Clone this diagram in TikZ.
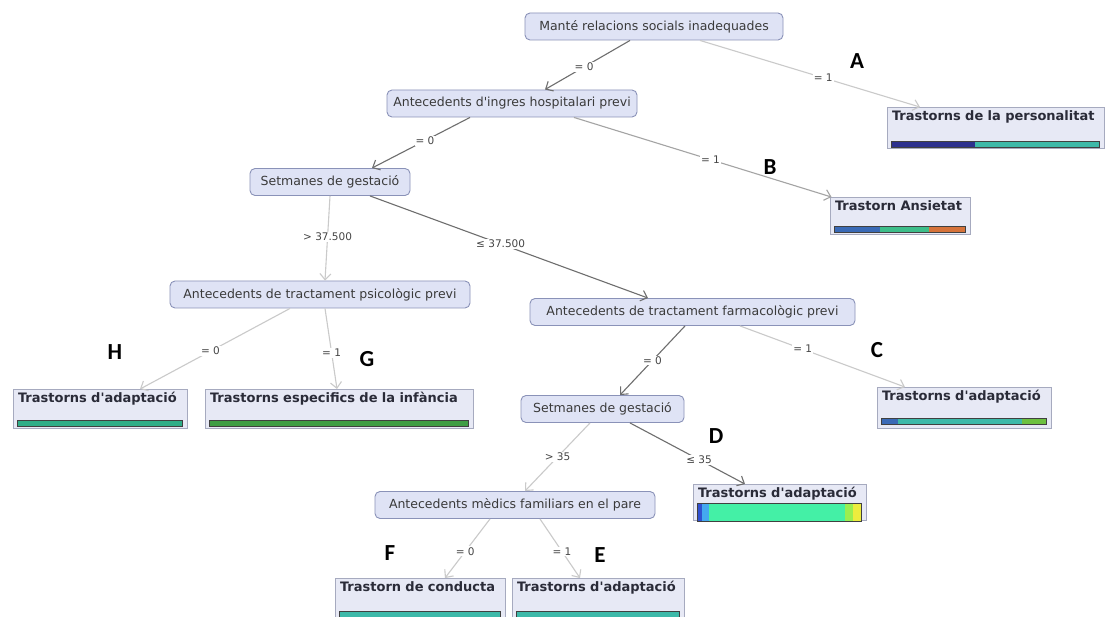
\documentclass[tikz,border=0pt]{standalone}
\usepackage{fontspec}
\setmainfont{DejaVu Sans}[Ligatures=TeXOff]
\newfontfamily\letterfont{Carlito}
\usetikzlibrary{arrows.meta,calc}

\definecolor{nodefill}{HTML}{DFE3F5}
\definecolor{nodeline}{HTML}{8A92B8}
\definecolor{leaffill}{HTML}{E7E9F5}
\definecolor{leafline}{HTML}{A6AABF}
\definecolor{nodetext}{HTML}{3A3A3A}
\definecolor{leaftext}{HTML}{2A2B38}
\definecolor{edgedark}{HTML}{6E6E6E}
\definecolor{edgemid}{HTML}{A4A4A4}
\definecolor{edgelight}{HTML}{CACACA}
\definecolor{labeltext}{HTML}{454545}
\definecolor{cnavy}{HTML}{2C308E}
\definecolor{cteal}{HTML}{3DB9A9}
\definecolor{cblue}{HTML}{3A6AB6}
\definecolor{cgreenteal}{HTML}{3DBE8A}
\definecolor{corange}{HTML}{D6733A}
\definecolor{cjade}{HTML}{2FAE88}
\definecolor{cgreen}{HTML}{3F9E45}
\definecolor{clime}{HTML}{6CC040}
\definecolor{croyal}{HTML}{3050D0}
\definecolor{csky}{HTML}{44A8F0}
\definecolor{caqua}{HTML}{44F0A6}
\definecolor{cyellowgreen}{HTML}{9AEE50}
\definecolor{cyellow}{HTML}{ECEC3E}

\tikzset{
  test/.style={rectangle, rounded corners=5pt, draw=nodeline, fill=nodefill,
    line width=0.9pt, text=nodetext, minimum height=27pt, inner xsep=6pt,
    font=\fontsize{12.5}{14}\selectfont},
  leaf/.style={rectangle, draw=leafline, fill=leaffill, line width=0.9pt,
    text=leaftext, inner xsep=5pt, inner ysep=3pt, text height=10pt,
    align=left, font=\fontsize{13}{15}\selectfont\bfseries},
  branch/.style={-{Straight Barb[length=6pt,width=11pt]}, line width=1.1pt},
  strong/.style={branch, draw=edgedark},
  medium/.style={branch, draw=edgemid},
  weak/.style={branch, draw=edgelight},
  cond/.style={fill=white, inner sep=1pt, text=labeltext,
    font=\fontsize{10.5}{12}\selectfont},
  tag/.style={font=\letterfont\fontsize{23}{26}\selectfont\bfseries, text=black},
  barline/.style={draw=black!75, line width=0.8pt}
}

% class distribution bar of a leaf: node, offset below top, height, colour/from/to list
\newcommand{\leafbar}[4]{%
  \path (#1.north west) ++(5,#2) coordinate (bl)
        (#1.north east) ++(-5,#2) coordinate (br);
  \foreach \c/\a/\b in {#4}{%
    \fill[\c] ($(bl)!\a!(br)$) rectangle ($(bl)!\b!(br)+(0,#3)$);}
  \draw[barline] (bl) rectangle ($(br)+(0,#3)$);
}

\begin{document}
\begin{tikzpicture}[x=1pt,y=-1pt]
\fill[white] (0,0) rectangle (1106,617);
\useasboundingbox (0,0) rectangle (1106,617);

% decision nodes
\node[test, minimum width=258pt] (root)  at (654,26.5) {Manté relacions socials inadequades};
\node[test, minimum width=250pt] (ingres) at (512,103.5) {Antecedents d'ingres hospitalari previ};
\node[test, minimum width=160pt] (setA)  at (330,182) {Setmanes de gestació};
\node[test, minimum width=300pt] (psic)  at (320,294.5) {Antecedents de tractament psicològic previ};
\node[test, minimum width=325pt] (farm)  at (692.5,312) {Antecedents de tractament farmacològic previ};
\node[test, minimum width=163pt] (setB)  at (602.5,409) {Setmanes de gestació};
\node[test, minimum width=280pt] (pare)  at (515,505) {Antecedents mèdics familiars en el pare};

% leaves
\node[leaf, text width=207pt, text depth=25pt] (pers) at (995.5,128) {Trastorns de la personalitat};
\node[leaf, text width=130pt, text depth=21pt] (ansi) at (900,216) {Trastorn Ansietat};
\node[leaf, text width=164pt, text depth=23pt] (adH) at (100,409) {Trastorns d'adaptació};
\node[leaf, text width=258pt, text depth=23pt] (infG) at (339,409) {Trastorns especifics de la infància};
\node[leaf, text width=164pt, text depth=25pt] (adC) at (964,408) {Trastorns d'adaptació};
\node[leaf, text width=163pt, text depth=20pt] (adD) at (779.5,502.5) {Trastorns d'adaptació};
\node[leaf, text width=160pt, text depth=25pt] (condF) at (420,599) {Trastorn de conducta};
\node[leaf, text width=162pt, text depth=25pt] (adE) at (598,599) {Trastorns d'adaptació};

% distribution bars
\leafbar{pers}{34}{6}{cnavy/0/0.4, cteal/0.4/1}
\leafbar{ansi}{29}{6}{cblue/0/0.35, cgreenteal/0.35/0.72, corange/0.72/1}
\leafbar{adH}{31}{6}{cjade/0/1}
\leafbar{infG}{31}{6}{cgreen/0/1}
\leafbar{adC}{31}{6}{cblue/0/0.1, cteal/0.1/0.85, clime/0.85/1}
\leafbar{adD}{19}{18}{croyal/0/0.03, csky/0.03/0.07, caqua/0.07/0.9, cyellowgreen/0.9/0.95, cyellow/0.95/1}
\leafbar{condF}{33}{6}{cteal/0/1}
\leafbar{adE}{33}{6}{cteal/0/1}

% branches
\draw[strong] ([xshift=-24]root.south) -- node[cond,pos=0.54] {= 0} ([xshift=33]ingres.north);
\draw[weak] ([xshift=46]root.south) -- node[cond,pos=0.56] {= 1} ([xshift=-75.5]pers.north);
\draw[strong] ([xshift=-42]ingres.south) -- node[cond,pos=0.46] {= 0} ([xshift=42]setA.north);
\draw[medium] ([xshift=62]ingres.south) -- node[cond,pos=0.53] {= 1} ([xshift=2]ansi.north west);
\draw[weak] (setA.south) -- node[cond,pos=0.48] {> 37.500} ([xshift=5]psic.north);
\draw[strong] ([xshift=40]setA.south) -- node[cond,pos=0.47] {≤ 37.500} ([xshift=-44.5]farm.north);
\draw[weak] ([xshift=-30]psic.south) -- node[cond,pos=0.53] {= 0} ([xshift=40]adH.north);
\draw[weak] ([xshift=5]psic.south) -- node[cond,pos=0.55] {= 1} ([xshift=-2]infG.north);
\draw[strong] ([xshift=-7.5]farm.south) -- node[cond,pos=0.5] {= 0} ([xshift=17.5]setB.north);
\draw[weak] ([xshift=47.5]farm.south) -- node[cond,pos=0.38] {= 1} ([xshift=-59]adC.north);
\draw[weak] ([xshift=-12.5]setB.south) -- node[cond,pos=0.5] {> 35} ([xshift=10]pare.north);
\draw[strong] ([xshift=27.5]setB.south) -- node[cond,pos=0.6] {≤ 35} ([xshift=-34.5]adD.north);
\draw[weak] ([xshift=-25]pare.south) -- node[cond,pos=0.55] {= 0} ([xshift=25]condF.north);
\draw[weak] ([xshift=25]pare.south) -- node[cond,pos=0.55] {= 1} ([xshift=-18]adE.north);

% leaf tags
\node[tag] (tA) at (857,61) {A};
\node[tag] (tB) at (770,167) {B};
\node[tag] (tC) at (877,350) {C};
\node[tag] (tD) at (716,436) {D};
\node[tag] (tE) at (600,555) {E};
\node[tag] (tF) at (390,553) {F};
\node[tag] (tG) at (367,359) {G};
\node[tag] (tH) at (115,352) {H};
\end{tikzpicture}
\end{document}
